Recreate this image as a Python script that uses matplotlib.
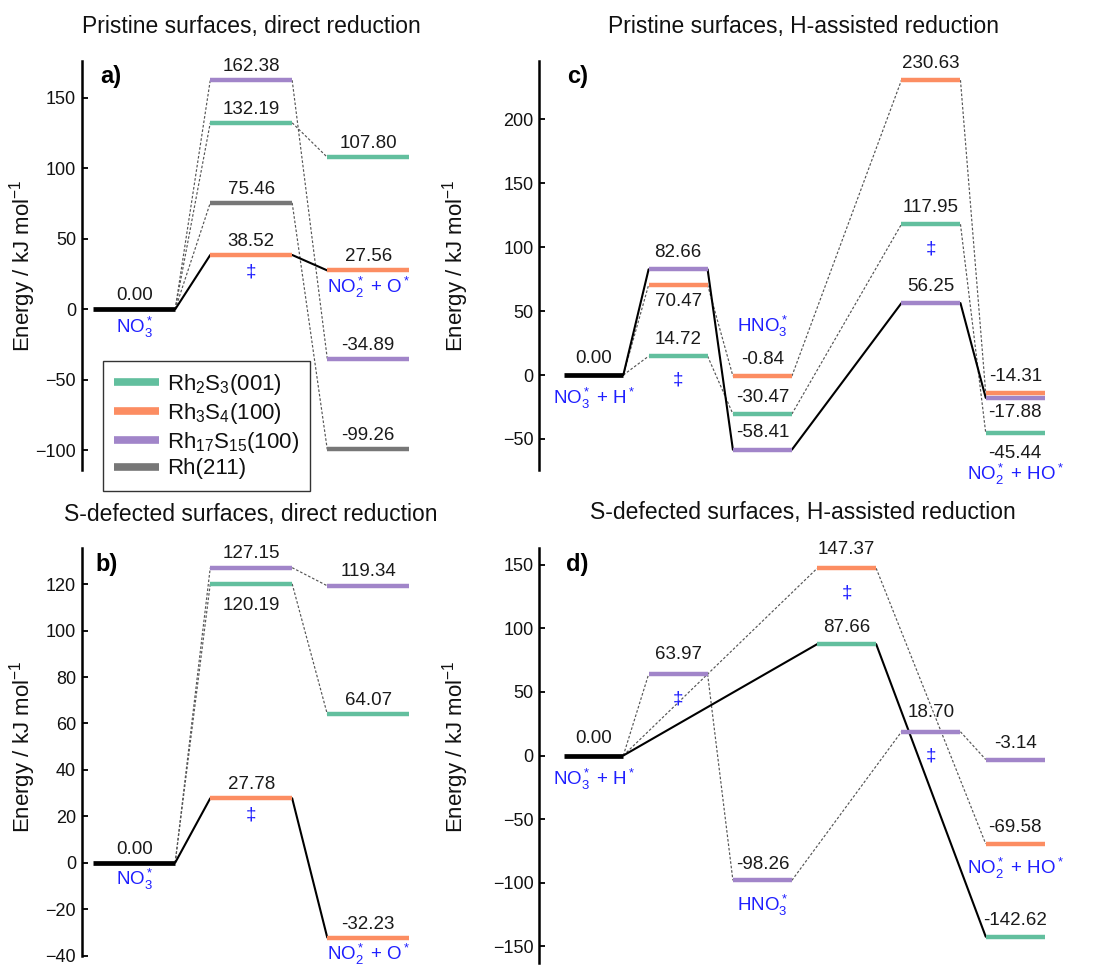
import matplotlib
matplotlib.use("Agg")
import matplotlib.pyplot as plt
from matplotlib.lines import Line2D

plt.rcParams.update({
    "font.family": ["Liberation Sans", "DejaVu Sans"],
    "mathtext.fontset": "custom",
    "mathtext.rm": "Liberation Sans",
    "mathtext.it": "Liberation Sans:italic",
    "mathtext.bf": "Liberation Sans:bold",
    "mathtext.sf": "Liberation Sans",
    "axes.unicode_minus": True,
})

# ---------------------------------------------------------------- data
SURFACES = ["Rh$_2$S$_3$(001)", "Rh$_3$S$_4$(100)", "Rh$_{17}$S$_{15}$(100)", "Rh(211)"]
COLORS = ["#62bf9e", "#fc8d62", "#a185c9", "#777777"]

# a) pristine surfaces, direct reduction  (slots: NO3*, TS, NO2*+O*)
a_slots = [0, 1, 2]
a_rh2s3 = [0.00, 132.19, 107.80]
a_rh3s4 = [0.00, 38.52, 27.56]
a_rh17s15 = [0.00, 162.38, -34.89]
a_rh211 = [0.00, 75.46, -99.26]

# b) S-defected surfaces, direct reduction
b_slots = [0, 1, 2]
b_rh2s3 = [0.00, 120.19, 64.07]
b_rh3s4 = [0.00, 27.78, -32.23]
b_rh17s15 = [0.00, 127.15, 119.34]

# c) pristine surfaces, H-assisted reduction  (NO3*+H*, TS1, HNO3*, TS2, NO2*+HO*)
c_slots = [0, 1, 2, 4, 5]
c_rh2s3 = [0.00, 14.72, -30.47, 117.95, -45.44]
c_rh3s4 = [0.00, 70.47, -0.84, 230.63, -14.31]
c_rh17s15 = [0.00, 82.66, -58.41, 56.25, -17.88]

# d) S-defected surfaces, H-assisted reduction
d_rh2s3_slots = [0, 3, 5]
d_rh2s3 = [0.00, 87.66, -142.62]
d_rh3s4_slots = [0, 3, 5]
d_rh3s4 = [0.00, 147.37, -69.58]
d_rh17s15_slots = [0, 1, 2, 4, 5]
d_rh17s15 = [0.00, 63.97, -98.26, 18.70, -3.14]

# ---------------------------------------------------------------- style
W, H = 1096, 965
HALF = 0.35
BLUE = "#1f1fff"
VAL_FS = 13.5
SPEC_FS = 13.5

fig = plt.figure(figsize=(W / 100, H / 100), dpi=100)


def axes_px(left, top, right, bottom):
    return fig.add_axes([left / W, 1 - bottom / H, (right - left) / W, (bottom - top) / H])


def style_axes(ax, xlim, ylim, ticks):
    ax.set_xlim(*xlim)
    ax.set_ylim(*ylim)
    for side in ("top", "right", "bottom"):
        ax.spines[side].set_visible(False)
    ax.spines["left"].set_linewidth(1.8)
    ax.set_xticks([])
    ax.set_yticks(ticks)
    ax.tick_params(axis="y", direction="in", length=4, width=1.4, pad=4,
                   labelsize=13, colors="#111111")
    ax.patch.set_alpha(0)


def connect(ax, slots, energies, solid):
    for s0, e0, s1, e1 in zip(slots[:-1], energies[:-1], slots[1:], energies[1:]):
        if solid:
            ax.plot([s0 + HALF, s1 - HALF], [e0, e1], color="black", lw=1.5,
                    zorder=3, solid_capstyle="round")
        else:
            ax.plot([s0 + HALF, s1 - HALF], [e0, e1], color="#555555", lw=0.85,
                    ls=(0, (2.2, 1.6)), zorder=2)


def levels(ax, slots, energies, color):
    for s, e in zip(slots[1:], energies[1:]):
        ax.plot([s - HALF, s + HALF], [e, e], color=color, lw=3.2,
                solid_capstyle="butt", zorder=4)


def start_level(ax):
    ax.plot([-HALF, HALF], [0, 0], color="black", lw=3.4, solid_capstyle="butt", zorder=5)


def value(ax, s, e, off):
    ax.annotate(f"{e:.2f}", (s, e), xytext=(0, off), textcoords="offset pixels",
                ha="center", va="center", fontsize=VAL_FS, color="#1a1a1a",
                annotation_clip=False, zorder=6)


def species(ax, s, e, text, off, fs=SPEC_FS):
    ax.annotate(text, (s, e), xytext=(0, off), textcoords="offset pixels",
                ha="center", va="center", fontsize=fs, color=BLUE,
                annotation_clip=False, zorder=6)


def panel_letter(x, y, t):
    fig.text(x / W, 1 - y / H, t, ha="center", va="center", fontsize=17, fontweight="bold")


def title(x, y, t):
    fig.text(x / W, 1 - y / H, t, ha="center", va="center", fontsize=16.5, color="#111111")


def ylabel(x, y):
    fig.text(x / W, 1 - y / H, "Energy / kJ mol$^{-1}$", rotation=90,
             ha="center", va="center", fontsize=16, color="#111111")


# ---------------------------------------------------------------- panel a
ax = axes_px(81.7, 61, 415, 470)
style_axes(ax, (-0.449, 2.4), (-113.9, 176.0), [-100, -50, 0, 50, 100, 150])
start_level(ax)
paths_a = [a_rh2s3, a_rh3s4, a_rh17s15, a_rh211]
for i, en in enumerate(paths_a):
    connect(ax, a_slots, en, solid=(i == 1))
    levels(ax, a_slots, en, COLORS[i])
value(ax, 0, 0.0, 13.5)
for en in paths_a:
    for s, e in zip(a_slots[1:], en[1:]):
        value(ax, s, e, 13.5)
species(ax, 0, 0.0, "NO$_3^*$", -18)
species(ax, 1, a_rh3s4[1], "‡", -17)
species(ax, 2, a_rh3s4[2], "NO$_2^*$ + O$^*$", -17)

handles = [Line2D([], [], color=c, lw=5.5, solid_capstyle="butt") for c in COLORS]
leg = fig.legend(handles, SURFACES, loc="upper left",
                 bbox_to_anchor=(103 / W, 1 - 361 / H), borderaxespad=0,
                 fontsize=16, handlelength=2.0, handletextpad=0.38,
                 borderpad=0.5, labelspacing=0.17, fancybox=False,
                 framealpha=1, edgecolor="#333333")
leg.get_frame().set_linewidth(1.0)
for t in leg.get_texts():
    t.set_color("#111111")

# ---------------------------------------------------------------- panel b
ax = axes_px(81.7, 548.3, 415, 956)
style_axes(ax, (-0.449, 2.4), (-40.2, 135.5), [-40, -20, 0, 20, 40, 60, 80, 100, 120])
start_level(ax)
paths_b = [b_rh2s3, b_rh3s4, b_rh17s15]
for i, en in enumerate(paths_b):
    connect(ax, b_slots, en, solid=(i == 1))
    levels(ax, b_slots, en, COLORS[i])
value(ax, 0, 0.0, 13.5)
value(ax, 1, b_rh17s15[1], 14.3)
value(ax, 2, b_rh17s15[2], 14.3)
value(ax, 1, b_rh2s3[1], -22)
value(ax, 2, b_rh2s3[2], 13.5)
value(ax, 1, b_rh3s4[1], 13.5)
value(ax, 2, b_rh3s4[2], 13.5)
species(ax, 0, 0.0, "NO$_3^*$", -17)
species(ax, 1, b_rh3s4[1], "‡", -17)
species(ax, 2, b_rh3s4[2], "NO$_2^*$ + O$^*$", -17)

# ---------------------------------------------------------------- panel c
ax = axes_px(539.3, 61, 1067.5, 470)
style_axes(ax, (-0.647, 5.62), (-74.3, 245.6), [-50, 0, 50, 100, 150, 200])
start_level(ax)
paths_c = [c_rh2s3, c_rh3s4, c_rh17s15]
for i, en in enumerate(paths_c):
    connect(ax, c_slots, en, solid=(i == 2))
for i in (2, 0, 1):
    levels(ax, c_slots, paths_c[i], COLORS[i])
value(ax, 0, 0.0, 16.7)
below_c = {(1, 1): -16.7, (2, 5): -15, (0, 5): -20}
for i, en in enumerate(paths_c):
    for s, e in zip(c_slots[1:], en[1:]):
        value(ax, s, e, below_c.get((i, s), 16.7))
species(ax, 0, 0.0, "NO$_3^*$ + H$^*$", -23)
species(ax, 1, c_rh2s3[1], "‡", -24)
species(ax, 2, c_rh3s4[2], "HNO$_3^*$", 50)
species(ax, 4, c_rh2s3[3], "‡", -25)
species(ax, 5, c_rh2s3[4], "NO$_2^*$ + HO$^*$", -41)

# ---------------------------------------------------------------- panel d
ax = axes_px(539.3, 548.3, 1067.5, 963)
style_axes(ax, (-0.647, 5.62), (-163.3, 163.1), [-150, -100, -50, 0, 50, 100, 150])
start_level(ax)
connect(ax, d_rh17s15_slots, d_rh17s15, solid=False)
connect(ax, d_rh3s4_slots, d_rh3s4, solid=False)
connect(ax, d_rh2s3_slots, d_rh2s3, solid=True)
levels(ax, d_rh17s15_slots, d_rh17s15, COLORS[2])
levels(ax, d_rh3s4_slots, d_rh3s4, COLORS[1])
levels(ax, d_rh2s3_slots, d_rh2s3, COLORS[0])
value(ax, 0, 0.0, 16.7)
above_d = {(2, 1): 19.3, (2, 4): 19.3, (1, 3): 19, (0, 3): 16.7}
for i, sl, en in ((0, d_rh2s3_slots, d_rh2s3), (1, d_rh3s4_slots, d_rh3s4),
                  (2, d_rh17s15_slots, d_rh17s15)):
    for s, e in zip(sl[1:], en[1:]):
        value(ax, s, e, above_d.get((i, s), 16))
species(ax, 0, 0.0, "NO$_3^*$ + H$^*$", -24)
species(ax, 1, d_rh17s15[1], "‡", -25)
species(ax, 2, d_rh17s15[2], "HNO$_3^*$", -25)
species(ax, 3, d_rh3s4[1], "‡", -25)
species(ax, 4, d_rh17s15[3], "‡", -24)
species(ax, 5, d_rh3s4[2], "NO$_2^*$ + HO$^*$", -25)

# ---------------------------------------------------------------- labels
title(251, 27, "Pristine surfaces, direct reduction")
title(804, 27, "Pristine surfaces, H-assisted reduction")
title(251, 515, "S-defected surfaces, direct reduction")
title(803, 513, "S-defected surfaces, H-assisted reduction")
panel_letter(111, 76, "a)")
panel_letter(107, 565, "b)")
panel_letter(578, 77, "c)")
panel_letter(577, 565, "d)")
ylabel(23, 266)
ylabel(456, 266)
ylabel(23, 747)
ylabel(456, 747)

fig.savefig("out.png", dpi=100, facecolor="white")
